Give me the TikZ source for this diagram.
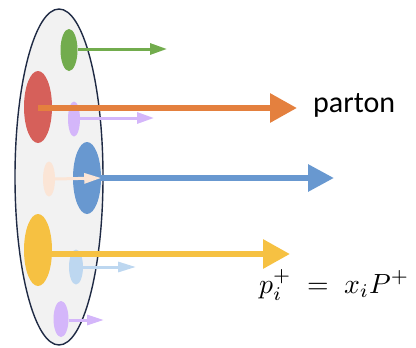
\RequirePackage{fix-cm}
\documentclass[tikz,border=0pt]{standalone}
\usepackage{amsmath}
\usepackage{graphicx}
\usepackage{fontspec}
\setmainfont{Carlito}
\usepackage{tikz}
\usetikzlibrary{shapes.geometric, arrows.meta}
\definecolor{hadronfill}{RGB}{242,242,242}
\definecolor{hadronline}{RGB}{31,42,68}
\definecolor{pgreen}{RGB}{114,172,77}
\definecolor{pred}{RGB}{214,96,90}
\definecolor{porange}{RGB}{228,128,62}
\definecolor{plilac}{RGB}{212,182,250}
\definecolor{pblue}{RGB}{104,152,208}
\definecolor{ppeach}{RGB}{251,229,214}
\definecolor{pyellow}{RGB}{246,193,66}
\definecolor{plightblue}{RGB}{189,215,240}
\tikzset{
  blob/.style={ellipse, inner sep=0pt, draw=none},
  big blob/.style={blob, minimum width=28pt, minimum height=72pt},
  small blob/.style={blob, minimum width=13pt, minimum height=35pt},
  big arrow/.style={line width=6pt, -{Triangle[length=27pt, width=28pt]}},
  small arrow/.style={line width=3pt, -{Triangle[length=17pt, width=11pt]}},
}

\begin{document}
\begin{tikzpicture}[x=1pt, y=-1pt]
  \useasboundingbox (0,0) rectangle (416,348);

  % hadron
  \node[ellipse, draw=hadronline, line width=1.4pt, fill=hadronfill,
        minimum width=88pt, minimum height=336pt, inner sep=0pt] (hadron) at (59,177) {};

  % partons
  \node[blob, fill=pgreen, minimum width=17pt, minimum height=42pt] (green) at (69,50) {};
  \node[big blob, fill=pred]        (red)    at (38,107) {};
  \node[small blob, fill=plilac, minimum width=12pt] (lilac) at (74,119) {};
  \node[big blob, fill=pblue]       (blue)   at (87,178) {};
  \node[small blob, fill=ppeach, minimum width=12pt] (peach) at (49,179) {};
  \node[big blob, fill=pyellow]     (yellow) at (38,250) {};
  \node[small blob, fill=plightblue, minimum width=14pt] (lightblue) at (76,267) {};
  \node[small blob, fill=plilac, minimum width=15pt, minimum height=36pt] (lilac2) at (61,319) {};

  % arrow tips
  \coordinate (gtip)  at (167,49);
  \coordinate (otip)  at (297,108);
  \coordinate (ltip)  at (154,118);
  \coordinate (btip)  at (334,178);
  \coordinate (ytip)  at (290,254);
  \coordinate (lbtip) at (136,267);
  \coordinate (l2tip) at (104,320);

  % momenta
  \draw[small arrow, pgreen] (green.east |- gtip) -- (gtip);
  \draw[big arrow, porange] (red.center |- otip) -- (otip);
  \draw[small arrow, plilac] (lilac.east |- ltip) -- (ltip);
  \draw[big arrow, pblue, -{Triangle[length=26pt, width=26pt]}] ([xshift=-2pt]blue.east) -- (btip);
  \draw[small arrow, ppeach, -{Triangle[length=17pt, width=10pt]}] (peach.east) -- (blue.east);
  \draw[big arrow, pyellow] ([xshift=-2pt]yellow.east |- ytip) -- (ytip);
  \draw[small arrow, plightblue, -{Triangle[length=18pt, width=10pt]}] (lightblue.east) -- (lbtip);
  \draw[small arrow, plilac, -{Triangle[length=17pt, width=10pt]}] (lilac2.east |- l2tip) -- (l2tip);

  % labels
  \node[anchor=base west, inner sep=0pt, font=\fontsize{30}{36}\selectfont] (parton) at (313,112) {parton};
  \node[anchor=base west, inner sep=0pt] (mom) at (259,293)
    {\resizebox{150pt}{!}{$p_i^{+}\;=\;x_iP^{+}$}};

\end{tikzpicture}
\end{document}
